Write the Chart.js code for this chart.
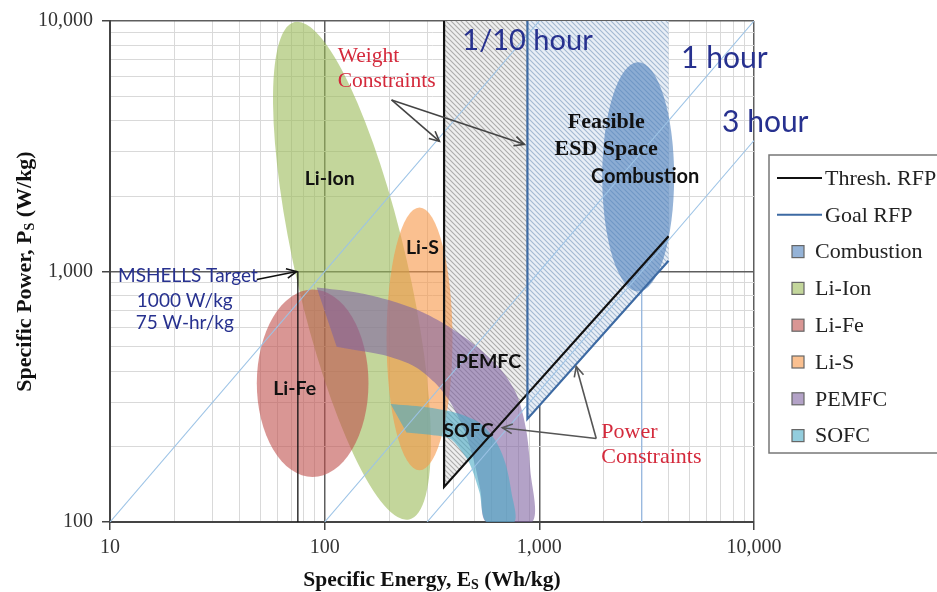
<!DOCTYPE html>
<html><head><meta charset="utf-8">
<script src="https://cdn.jsdelivr.net/npm/chart.js@4.4.1/dist/chart.umd.min.js"></script>
<style>html,body{margin:0;padding:0;background:#fff;overflow:hidden}</style>
</head><body>
<canvas id="c" width="937" height="592"></canvas>
<script>
// ---------------- data ----------------
const energyTicks = [10,20,30,40,50,60,70,80,90,100,200,300,400,500,600,700,800,900,1000,2000,3000,4000,5000,6000,7000,8000,9000,10000];
const powerTicks  = [100,200,300,400,500,600,700,800,900,1000,2000,3000,4000,5000,6000,7000,8000,9000,10000];
const decadeValues = [10,100,1000,10000];
const decadeLabels = ['10','100','1,000','10,000'];

// RFP boundaries (E in Wh/kg, P in W/kg)
const threshE = [360, 360, 4000];
const threshP = [10000, 138, 1384];
const goalE   = [880, 880, 4000];
const goalP   = [10000, 258, 1103];
// hatched regions
const grayRegionE = [360, 880, 880, 360];
const grayRegionP = [10000, 10000, 325, 138];
const feasRegionE = [880, 4000, 4000, 880];
const feasRegionP = [10000, 10000, 1103, 258];
// constant discharge-time lines
const tenthHourE = [10, 1000];    const tenthHourP = [100, 10000];
const oneHourE   = [100, 10000];  const oneHourP   = [100, 10000];
const threeHourE = [300, 10000];  const threeHourP = [100, 3333];
// vertical reference line and MSHELLS target
const refLineE = [3000, 3000];    const refLineP = [100, 10000];
const targetE  = [75, 75];        const targetP  = [100, 1000];

// ellipses: [center, end of long axis, end of short axis]
const combustionE = [2887, 2887, 4246];  const combustionP = [2386, 6837, 2386];
const liIonE      = [134, 72.5, 240];    const liIonP      = [1007, 9900, 1130];
const liFeE       = [87.9, 87.9, 160];   const liFeP       = [358, 847, 358];
const liSE        = [276.6, 276.6, 393.9]; const liSP      = [538, 1800, 538];

// band outlines
const pemfcE = [91.8,140.8,200.6,285.6,393.9,525.9,672.9,790.2,869.9,907.9,927.7,566.9,531.6,488.0,438.4,381.4,324.8,262.1,200.6,153.5,113.7];
const pemfcP = [863,825,767,688,590,492,399,318,231.5,161,100,100,134,184.5,242,304,361,418,457,479,501];
const sofcE  = [202.8,291.8,411.2,525.9,624.2,694.9,740.9,765.1,566.9,525.9,472.6,424.6,381.4,301.4,240.6];
const sofcP  = [295.8,287.9,272.6,248.9,211.4,171.6,131.9,100,100,131.9,171.6,196.6,215.3,223.3,227.4];

const legendLabels = ['Thresh. RFP','Goal RFP','Combustion','Li-Ion','Li-Fe','Li-S','PEMFC','SOFC'];

// ---------------- styling ----------------
const C = {
  comb:'rgba(79,129,189,0.6)', ion:'rgba(155,187,89,0.6)', fe:'rgba(192,80,77,0.6)',
  s:'rgba(247,150,70,0.6)', pem:'rgba(128,100,162,0.6)', sofc:'rgba(75,172,198,0.6)'
};
const legendStyle = [
  {type:'line', color:'#111'}, {type:'line', color:'#3d6aa3'},
  {type:'box', color:C.comb}, {type:'box', color:C.ion}, {type:'box', color:C.fe},
  {type:'box', color:C.s}, {type:'box', color:C.pem}, {type:'box', color:C.sofc}
];
const SERIF = '"Liberation Serif", "Times New Roman", serif';
const SANS = 'Lato, "Open Sans", sans-serif';
const NAVY = '#27318f', RED = '#d42a3c';

function hatch(bg, fg){
  const c = document.createElement('canvas'); c.width = 5; c.height = 5;
  const g = c.getContext('2d');
  g.fillStyle = bg; g.fillRect(0,0,5,5);
  g.strokeStyle = fg; g.lineWidth = 1.1;
  g.beginPath();
  g.moveTo(-1,-1); g.lineTo(6,6);
  g.moveTo(-1,4); g.lineTo(1,6);
  g.moveTo(4,-1); g.lineTo(6,1);
  g.stroke();
  return g.createPattern(c,'repeat');
}
const pts = (E,P) => E.map((e,i)=>({x:e, y:P[i]}));
const isMajor = v => decadeValues.includes(v);

const base = {showLine:true, pointRadius:0, pointHoverRadius:0, fill:false, tension:0};
const datasets = [
  {...base, label:'ref', data:pts(refLineE,refLineP), borderColor:'#8fb4df', borderWidth:1.2},
  {...base, label:'grayRegion', data:pts(grayRegionE,grayRegionP), borderWidth:0, fill:'shape', backgroundColor:hatch('#eeeeee','#ababab')},
  {...base, label:'feasRegion', data:pts(feasRegionE,feasRegionP), borderWidth:0, fill:'shape', backgroundColor:hatch('#e8eef6','#a3b8d2')},
  {...base, label:'PEMFC', data:pts(pemfcE,pemfcP), borderWidth:0, fill:'shape', backgroundColor:C.pem, tension:0.3},
  {...base, label:'SOFC', data:pts(sofcE,sofcP), borderWidth:0, fill:'shape', backgroundColor:C.sofc, tension:0.3},
  {...base, label:'1/10 hour', data:pts(tenthHourE,tenthHourP), borderColor:'#9cc3e6', borderWidth:1.1},
  {...base, label:'1 hour', data:pts(oneHourE,oneHourP), borderColor:'#9cc3e6', borderWidth:1.1},
  {...base, label:'3 hour', data:pts(threeHourE,threeHourP), borderColor:'#9cc3e6', borderWidth:1.1},
  {...base, label:'Thresh. RFP', data:pts(threshE,threshP), borderColor:'#111', borderWidth:2.2},
  {...base, label:'Goal RFP', data:pts(goalE,goalP), borderColor:'#3d6aa3', borderWidth:2.2},
  {...base, label:'target', data:pts(targetE,targetP), borderColor:'#111', borderWidth:1.3}
];
datasets.forEach((d,i)=>{ d.order = datasets.length - i; });
const FEAS_INDEX = 2;

const ellipses = [
  {E:liIonE, P:liIonP, color:C.ion},
  {E:liFeE, P:liFeP, color:C.fe},
  {E:liSE, P:liSP, color:C.s},
  {E:combustionE, P:combustionP, color:C.comb}
];

const notes = [
  {t:'1/10 hour', e:438, p:8349, font:'29px '+SANS, color:NAVY, align:'left'},
  {t:'1 hour', e:4576, p:7089, font:'30px '+SANS, color:NAVY, align:'left'},
  {t:'3 hour', e:7099, p:3930, font:'30px '+SANS, color:NAVY, align:'left'},
  {t:'Weight', e:115, p:7220, font:'21.5px '+SERIF, color:RED, align:'left'},
  {t:'Constraints', e:115, p:5754, font:'21.5px '+SERIF, color:RED, align:'left'},
  {t:'Feasible', e:2049, p:3930, font:'bold 22px '+SERIF, color:'#111', align:'center'},
  {t:'ESD Space', e:2049, p:3076, font:'bold 22px '+SERIF, color:'#111', align:'center'},
  {t:'Combustion', e:3112, p:2386, font:'bold 20px '+SANS, color:'#111', align:'center'},
  {t:'Li-Ion', e:105.5, p:2343, font:'bold 19.5px '+SANS, color:'#111', align:'center'},
  {t:'Li-S', e:285.6, p:1241, font:'bold 19.5px '+SANS, color:'#111', align:'center'},
  {t:'Li-Fe', e:72.5, p:342, font:'bold 19.5px '+SANS, color:'#111', align:'center'},
  {t:'PEMFC', e:579, p:437, font:'bold 19.5px '+SANS, color:'#111', align:'center'},
  {t:'SOFC', e:467.6, p:231.5, font:'bold 19.5px '+SANS, color:'#111', align:'center'},
  {t:'MSHELLS Target', e:23.06, p:962, font:'19px '+SANS, color:NAVY, align:'center'},
  {t:'1000 W/kg', e:22.3, p:760, font:'19px '+SANS, color:NAVY, align:'center'},
  {t:'75 W-hr/kg', e:22.3, p:622.6, font:'19px '+SANS, color:NAVY, align:'center'},
  {t:'Power', e:1943, p:227.3, font:'22px '+SERIF, color:RED, align:'left'},
  {t:'Constraints', e:1943, p:181.2, font:'22px '+SERIF, color:RED, align:'left'}
];
const arrows = [
  {from:[204.9,4842], to:[342.6,3307], color:'#444'},
  {from:[204.9,4842], to:[851.5,3219], color:'#444'},
  {from:[48.3,928.5], to:[74,1000], color:'#111'},
  {from:[1841,215.3], to:[672.9,237.9], color:'#555'},
  {from:[1841,215.3], to:[1486,417.7], color:'#555'}
];

function drawArrow(ctx, x1,y1,x2,y2,color){
  ctx.save(); ctx.strokeStyle=color; ctx.lineWidth=1.6;
  ctx.beginPath(); ctx.moveTo(x1,y1); ctx.lineTo(x2,y2); ctx.stroke();
  const a = Math.atan2(y2-y1, x2-x1), L=11, w=0.45;
  ctx.beginPath();
  ctx.moveTo(x2 - L*Math.cos(a-w), y2 - L*Math.sin(a-w)); ctx.lineTo(x2,y2);
  ctx.lineTo(x2 - L*Math.cos(a+w), y2 - L*Math.sin(a+w));
  ctx.stroke(); ctx.restore();
}
function drawSub(ctx, parts, font, subFont){
  let w=0;
  parts.forEach(p=>{ ctx.font = p.sub?subFont:font; p.w = ctx.measureText(p.t).width; w+=p.w; });
  let x=-w/2;
  parts.forEach(p=>{ ctx.font = p.sub?subFont:font; ctx.fillText(p.t, x, p.sub?5:0); x+=p.w; });
}

const overlay = {
  id:'overlay',
  afterDatasetDraw(chart, args){
    if (args.index !== FEAS_INDEX) return;
    const {ctx, scales:{x,y}} = chart;
    ctx.save();
    ellipses.forEach(el=>{
      const cx=x.getPixelForValue(el.E[0]), cy=y.getPixelForValue(el.P[0]);
      const mx=x.getPixelForValue(el.E[1]), my=y.getPixelForValue(el.P[1]);
      const nx=x.getPixelForValue(el.E[2]), ny=y.getPixelForValue(el.P[2]);
      const a=Math.hypot(mx-cx,my-cy), b=Math.hypot(nx-cx,ny-cy);
      ctx.beginPath(); ctx.ellipse(cx,cy,a,b,Math.atan2(my-cy,mx-cx),0,Math.PI*2);
      ctx.fillStyle=el.color; ctx.fill();
    });
    ctx.restore();
  },
  afterDraw(chart){
    const {ctx, chartArea:ca, scales:{x,y}} = chart;
    ctx.save();
    ctx.textBaseline='middle';
    notes.forEach(n=>{
      ctx.font=n.font; ctx.fillStyle=n.color; ctx.textAlign=n.align;
      ctx.fillText(n.t, x.getPixelForValue(n.e), y.getPixelForValue(n.p));
    });
    arrows.forEach(a=>drawArrow(ctx, x.getPixelForValue(a.from[0]), y.getPixelForValue(a.from[1]),
      x.getPixelForValue(a.to[0]), y.getPixelForValue(a.to[1]), a.color));
    // axis titles
    ctx.fillStyle='#111'; ctx.textAlign='left';
    ctx.save(); ctx.translate((ca.left+ca.right)/2, 580);
    drawSub(ctx, [{t:'Specific Energy, E'},{t:'S',sub:true},{t:' (Wh/kg)'}], 'bold 21.5px '+SERIF, 'bold 14px '+SERIF);
    ctx.restore();
    ctx.save(); ctx.translate(25, (ca.top+ca.bottom)/2); ctx.rotate(-Math.PI/2);
    drawSub(ctx, [{t:'Specific Power, P'},{t:'S',sub:true},{t:' (W/kg)'}], 'bold 22px '+SERIF, 'bold 14px '+SERIF);
    ctx.restore();
    // legend
    const lx = ca.right+15, ly = 155;
    ctx.strokeStyle='#777'; ctx.lineWidth=1.5;
    ctx.strokeRect(lx, ly, 200, 298);
    ctx.font='22px '+SERIF; ctx.textAlign='left'; ctx.textBaseline='middle';
    legendLabels.forEach((lab,i)=>{
      const st=legendStyle[i], yy = ly + 23 + i*36.8;
      if (st.type==='line'){
        ctx.strokeStyle=st.color; ctx.lineWidth=2;
        ctx.beginPath(); ctx.moveTo(lx+8,yy); ctx.lineTo(lx+53,yy); ctx.stroke();
        ctx.fillStyle='#222'; ctx.fillText(lab, lx+56, yy+1);
      } else {
        ctx.fillStyle='#fff'; ctx.fillRect(lx+23,yy-6,12,12);
        ctx.fillStyle=st.color; ctx.fillRect(lx+23,yy-6,12,12);
        ctx.strokeStyle='#666'; ctx.lineWidth=1.2; ctx.strokeRect(lx+23,yy-6,12,12);
        ctx.fillStyle='#222'; ctx.fillText(lab, lx+46, yy+1);
      }
    });
    ctx.restore();
  }
};

function axis(min,max,ticks,isX){
  return {
    type:'logarithmic', min, max,
    afterBuildTicks: s => { s.ticks = ticks.map(v=>({value:v})); },
    afterFit: s => { if (isX) s.height = 70; else s.width = 110; },
    ticks:{ autoSkip:false, maxRotation:0, padding: isX?6:9, color:'#333',
      font:{family:SERIF, size:20},
      callback: v => { const i = decadeValues.indexOf(v); return i>=0 ? decadeLabels[i] : ''; } },
    grid:{ color: c => isMajor(c.tick && c.tick.value) ? '#5e5e5e' : '#d9d9d9',
      lineWidth: c => isMajor(c.tick && c.tick.value) ? 1.5 : 1,
      tickLength: 8,
      tickColor: c => isMajor(c.tick && c.tick.value) ? '#444' : 'rgba(0,0,0,0)' },
    border:{ display:true, color:'#444', width:2 }
  };
}

new Chart(document.getElementById('c'), {
  type:'scatter',
  data:{ datasets },
  options:{
    responsive:false, animation:false,
    layout:{ padding:{ left:0, right:183, top:15, bottom:0 } },
    plugins:{ legend:{display:false}, tooltip:{enabled:false} },
    scales:{ x: axis(10,10000,energyTicks,true), y: axis(100,10000,powerTicks,false) }
  },
  plugins:[overlay]
});
</script>
</body></html>
